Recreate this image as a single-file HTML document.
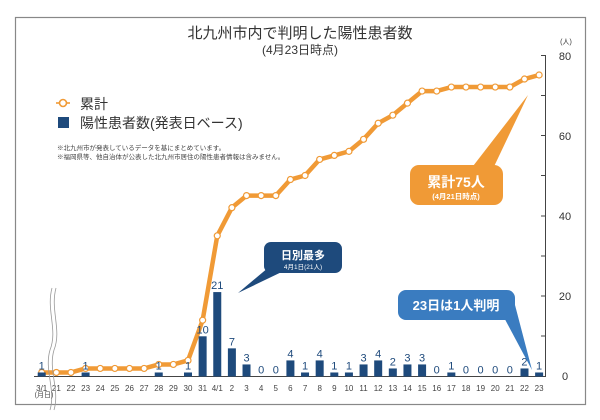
<!DOCTYPE html>
<html><head><meta charset="utf-8"><style>
body{margin:0;background:#fff;}
svg{display:block;font-family:"Liberation Sans","Noto Sans CJK JP",sans-serif;}
</style></head><body>
<svg width="600" height="420" viewBox="0 0 600 420">
<rect x="15.5" y="17.5" width="570" height="387" fill="#fff" stroke="#888" stroke-width="1.2"/>
<text x="300" y="38" font-size="15" text-anchor="middle" fill="#333">北九州市内で判明した陽性患者数</text>
<text x="300" y="54" font-size="12" text-anchor="middle" fill="#333">(4月23日時点)</text>
<text x="566" y="44" font-size="7" text-anchor="middle" fill="#333">(人)</text>
<g font-size="11" fill="#333" text-anchor="middle">
<text x="565" y="60">80</text><text x="565" y="140">60</text><text x="565" y="220">40</text><text x="565" y="300">20</text><text x="565" y="380">0</text>
</g>
<line x1="545.5" y1="55" x2="545.5" y2="377" stroke="#444" stroke-width="1"/>
<g stroke="#444" stroke-width="1">
<line x1="541" y1="55.5" x2="545" y2="55.5"/><line x1="541" y1="95.5" x2="545" y2="95.5"/><line x1="541" y1="135.5" x2="545" y2="135.5"/><line x1="541" y1="175.5" x2="545" y2="175.5"/><line x1="541" y1="216" x2="545" y2="216"/><line x1="541" y1="256" x2="545" y2="256"/><line x1="541" y1="296" x2="545" y2="296"/><line x1="541" y1="336" x2="545" y2="336"/>
</g>
<line x1="34" y1="376.5" x2="546" y2="376.5" stroke="#444" stroke-width="1"/>
<circle cx="63" cy="103" r="3.5" fill="#fff" stroke="#f09a36" stroke-width="1.6"/>
<line x1="56" y1="103" x2="59" y2="103" stroke="#f09a36" stroke-width="1.6"/><line x1="67" y1="103" x2="70" y2="103" stroke="#f09a36" stroke-width="1.6"/>
<text x="80" y="109" font-size="14" fill="#333">累計</text>
<rect x="58" y="117" width="11" height="11" fill="#1e4a7c"/>
<text x="80" y="128" font-size="14" fill="#333">陽性患者数(発表日ベース)</text>
<text x="57" y="150" font-size="6.5" fill="#444">※北九州市が発表しているデータを基にまとめています。</text>
<text x="57" y="159" font-size="6.5" fill="#444">※福岡県等、他自治体が公表した北九州市居住の陽性患者情報は含みません。</text>
<g id="chart"></g>
<path d="M52 288 C46 310,58 330,50 350 C44 370,56 390,50 410" fill="none" stroke="#999" stroke-width="0.8"/>
<path d="M56 288 C50 310,62 330,54 350 C48 370,60 390,54 410" fill="none" stroke="#999" stroke-width="0.8"/>
<text x="44" y="397" font-size="7" text-anchor="middle" fill="#444">(月日)</text>
<path d="M470 170 L528 95 L490 175 Z" fill="#f09a36"/>
<rect x="410" y="165" width="93" height="40" rx="9" fill="#f09a36"/>
<text x="456" y="187" font-size="14" font-weight="bold" fill="#fff" text-anchor="middle">累計75人</text>
<text x="456" y="199" font-size="7.5" font-weight="bold" fill="#fff" text-anchor="middle">(4月21日時点)</text>
<path d="M275 262 L238 293 L290 268 Z" fill="#1e4a7c"/>
<rect x="264" y="242" width="78" height="31" rx="7" fill="#1e4a7c"/>
<text x="303" y="259" font-size="11" font-weight="bold" fill="#fff" text-anchor="middle">日別最多</text>
<text x="303" y="269" font-size="6.5" fill="#fff" text-anchor="middle">4月1日(21人)</text>
<path d="M500 310 L532 370 L515 305 Z" fill="#3a7cc0"/>
<rect x="398" y="290" width="117" height="30" rx="8" fill="#3a7cc0"/>
<text x="456" y="310" font-size="13" font-weight="bold" fill="#fff" text-anchor="middle">23日は1人判明</text>
</svg>
<script>
const labels=["3/1","21","22","23","24","25","26","27","28","29","30","31","4/1","2","3","4","5","6","7","8","9","10","11","12","13","14","15","16","17","18","19","20","21","22","23"];
const bars=[1,0,0,1,0,0,0,0,1,0,1,10,21,7,3,0,0,4,1,4,1,1,3,4,2,3,3,0,1,0,0,0,0,2,1];
const show=[1,0,0,1,0,0,0,0,1,0,1,1,1,1,1,1,1,1,1,1,1,1,1,1,1,1,1,1,1,1,1,1,1,1,1];
const cum=[1,1,1,2,2,2,2,2,3,3,4,14,35,42,45,45,45,49,50,54,55,56,59,63,65,68,71,71,72,72,72,72,72,74,75];
const X=i=>41.7+i*14.63, Y=v=>376.5-v*4.02;
let s="";
s+=`<polyline points="${cum.map((c,i)=>X(i)+","+Y(c)).join(" ")}" fill="none" stroke="#f09a36" stroke-width="4.5" stroke-linejoin="round"/>`;
cum.forEach((c,i)=>s+=`<circle cx="${X(i)}" cy="${Y(c)}" r="3" fill="#fff" stroke="#f09a36" stroke-width="1.2"/>`);
bars.forEach((b,i)=>{const x=X(i);
 if(b>0)s+=`<rect x="${x-4}" y="${Y(b)}" width="8" height="${b*4.02}" fill="#1e4a7c"/>`;
 if(show[i])s+=`<text x="${x}" y="${Y(b)-3}" font-size="11" fill="#1e4a7c" text-anchor="middle">${b}</text>`;
 s+=`<text x="${x}" y="391" font-size="8" fill="#444" text-anchor="middle">${labels[i]}</text>`;});
document.getElementById("chart").innerHTML=s;
</script>
</body></html>
